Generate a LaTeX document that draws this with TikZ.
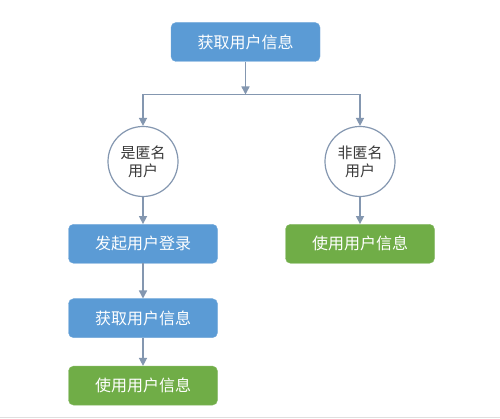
\documentclass[tikz,border=0pt]{standalone}
\usepackage{fontspec}
\newfontfamily\cjk{Noto Sans CJK SC}
\usetikzlibrary{positioning,arrows.meta}
\definecolor{boxblue}{HTML}{5B9BD5}
\definecolor{boxgreen}{HTML}{70AD47}
\definecolor{linegray}{HTML}{8497B0}
\definecolor{textgray}{HTML}{3A3A3A}

\begin{document}
\begin{tikzpicture}[x=1pt, y=1pt, >={Triangle[width=8pt,length=8pt]},
  font=\cjk,
  stepbox/.style={rounded corners=5pt, minimum width=149pt, minimum height=39pt,
    inner sep=0pt, text=white, font=\cjk\fontsize{16}{19}\selectfont},
  bluebox/.style={stepbox, fill=boxblue, draw=boxblue!85!white},
  greenbox/.style={stepbox, fill=boxgreen, draw=boxgreen!85!white},
  askcirc/.style={circle, draw=linegray, line width=1.2pt, fill=white,
    minimum size=70pt, inner sep=0pt, align=center, text=textgray,
    font=\cjk\fontsize{15}{18}\selectfont},
  link/.style={draw=linegray, line width=1.5pt}]
  \useasboundingbox (0,0) rectangle (500,419);
  \fill[white] (0,0) rectangle (500,419);
  \draw[gray!25, line width=1pt] (0,1.3) -- (500,1.3);

  \node[bluebox] (get) at (245.5,377) {获取用户信息};
  \coordinate (split) at (245.5,324.5);
  \coordinate (splitL) at (143,324.5);
  \coordinate (splitR) at (360,324.5);

  \node[askcirc] (anon) at (143,257.5) {是匿名\\用户};
  \node[askcirc] (named) at (360,257.5) {非匿名\\用户};

  \node[bluebox, below=27pt of anon] (login) {发起用户登录};
  \node[bluebox, below=35pt of login] (get2) {获取用户信息};
  \node[greenbox, below=28pt of get2] (use1) {使用用户信息};
  \node[greenbox, below=27pt of named] (use2) {使用用户信息};

  \draw[link, ->] (get) -- (split);
  \draw[link] (splitL) -- (splitR);
  \draw[link, ->] (splitL) -- (anon);
  \draw[link, ->] (splitR) -- (named);
  \draw[link, ->] (anon) -- (login);
  \draw[link, ->] (login) -- (get2);
  \draw[link, ->] (get2) -- (use1);
  \draw[link, ->] (named) -- (use2);
\end{tikzpicture}
\end{document}
